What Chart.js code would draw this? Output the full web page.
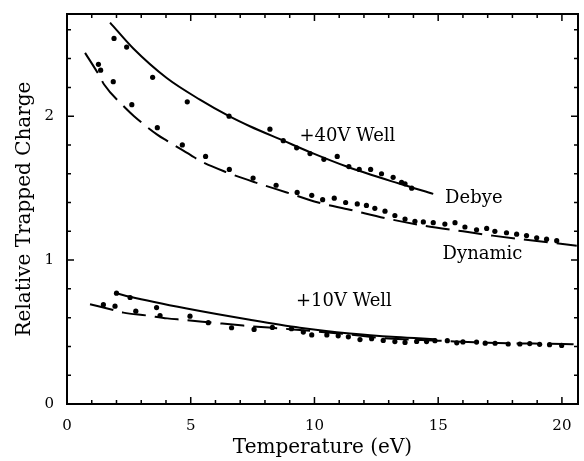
<!DOCTYPE html>
<html>
<head>
<meta charset="utf-8">
<script src="https://cdn.jsdelivr.net/npm/chart.js@4.4.1/dist/chart.umd.min.js"></script>
<style>
    body { margin: 0; background: #fff; }
</style>
</head>
<body>
<canvas id="myChart" width="584" height="461"></canvas>
<script>
// +40V well, Debye model curve
const debye40T = [1.74, 2.68, 4.03, 5.37, 6.55, 7.39, 8.74, 9.82, 11.3, 13.45, 14.8];
const debye40Q = [2.65, 2.47, 2.265, 2.115, 2.00, 1.93, 1.83, 1.75, 1.65, 1.53, 1.46];

// +40V well, points along the Debye curve
const debye40DotT = [1.90, 2.41, 3.46, 4.86, 6.55, 8.20, 8.74, 9.28, 9.82, 10.38, 10.92, 11.39, 11.81, 12.27, 12.71, 13.18, 13.52, 13.66, 13.93];
const debye40DotQ = [2.54, 2.48, 2.27, 2.10, 2.00, 1.91, 1.83, 1.78, 1.74, 1.70, 1.72, 1.65, 1.63, 1.63, 1.60, 1.575, 1.54, 1.53, 1.50];

// +40V well, dynamic model curve
const dyn40T = [0.73, 1.31, 1.50, 2.34, 2.71, 3.66, 4.03, 5.00, 5.37, 6.45, 7.60, 8.88, 10.15, 11.43, 12.90, 14.40, 16.00, 17.20, 20.60];
const dyn40Q = [2.44, 2.28, 2.22, 2.06, 2.00, 1.87, 1.83, 1.73, 1.69, 1.61, 1.54, 1.47, 1.40, 1.35, 1.29, 1.24, 1.20, 1.17, 1.10];

// +40V well, points along the dynamic curve
const dyn40DotT = [1.27, 1.36, 1.87, 2.62, 3.65, 4.66, 5.60, 6.56, 7.52, 8.45, 9.30, 9.89, 10.33, 10.80, 11.26, 11.73, 12.10, 12.44, 12.85, 13.25, 13.66, 14.06, 14.40, 14.80, 15.27, 15.68, 16.08, 16.55, 16.96, 17.29, 17.76, 18.17, 18.57, 18.98, 19.38, 19.79];
const dyn40DotQ = [2.36, 2.32, 2.24, 2.08, 1.92, 1.80, 1.72, 1.63, 1.57, 1.52, 1.47, 1.45, 1.42, 1.43, 1.40, 1.39, 1.38, 1.36, 1.34, 1.31, 1.285, 1.27, 1.265, 1.26, 1.25, 1.26, 1.23, 1.21, 1.22, 1.20, 1.19, 1.18, 1.17, 1.155, 1.145, 1.135];

// +10V well, Debye model curve
const debye10T = [2.0, 2.55, 4.84, 7.39, 9.41, 11.43, 13.3, 14.9];
const debye10Q = [0.77, 0.745, 0.663, 0.585, 0.53, 0.49, 0.465, 0.45];

// +10V well, dynamic model curve
const dyn10T = [0.93, 1.94, 2.28, 3.22, 4.05, 4.70, 5.85, 7.12, 9.00, 11.00, 13.00, 15.00, 17.00, 20.05, 20.60];
const dyn10Q = [0.693, 0.65, 0.635, 0.615, 0.595, 0.585, 0.566, 0.545, 0.52, 0.49, 0.455, 0.44, 0.425, 0.417, 0.415];

// +10V well points
const dot10T = [1.47, 1.94, 2.0, 2.55, 2.78, 3.62, 3.76, 4.97, 5.71, 6.65, 7.56, 8.30, 9.07, 9.55, 9.89, 10.50, 10.96, 11.37, 11.84, 12.31, 12.78, 13.25, 13.66, 14.13, 14.53, 14.87, 15.37, 15.75, 16.00, 16.55, 16.90, 17.30, 17.83, 18.30, 18.70, 19.10, 19.50, 19.99];
const dot10Q = [0.69, 0.68, 0.77, 0.74, 0.645, 0.67, 0.615, 0.61, 0.565, 0.53, 0.518, 0.532, 0.523, 0.50, 0.48, 0.48, 0.474, 0.467, 0.448, 0.454, 0.442, 0.434, 0.428, 0.435, 0.434, 0.44, 0.44, 0.425, 0.431, 0.43, 0.423, 0.422, 0.417, 0.417, 0.42, 0.415, 0.412, 0.407];

// text labels placed in data coordinates
const labelText = ['+40V Well', 'Debye', 'Dynamic', '+10V Well'];
const labelT = [11.33, 16.44, 16.79, 11.19];
const labelQ = [1.86, 1.43, 1.04, 0.71];

const xMax = 20.65;
const yMax = 2.71;
const serif = '"DejaVu Serif", "Liberation Serif", serif';

function toPoints(xs, ys) {
    const result = [];
    for (let i = 0; i < xs.length; i++) {
        result.push({ x: xs[i], y: ys[i] });
    }
    return result;
}

function curve(xs, ys, dash) {
    return {
        data: toPoints(xs, ys),
        showLine: true,
        borderColor: '#000',
        borderWidth: 2,
        borderDash: dash,
        pointRadius: 0,
        tension: 0.4,
        cubicInterpolationMode: 'monotone',
    };
}

function dots(xs, ys) {
    return {
        data: toPoints(xs, ys),
        showLine: false,
        pointRadius: 2.6,
        pointBackgroundColor: '#000',
        pointBorderColor: '#000',
        pointBorderWidth: 0,
    };
}

// frame with inward ticks on all four sides, plus the text labels
const framePlugin = {
    id: 'frame',
    afterDraw(chart) {
        const ctx = chart.ctx;
        const area = chart.chartArea;
        const x = chart.scales.x;
        const y = chart.scales.y;

        ctx.save();
        ctx.strokeStyle = '#000';
        ctx.lineWidth = 2;
        ctx.strokeRect(area.left, area.top, area.right - area.left, area.bottom - area.top);

        ctx.lineWidth = 1.5;
        ctx.beginPath();
        for (let v = 1; v <= 20; v++) {
            const px = x.getPixelForValue(v);
            const len = v % 5 === 0 ? 7 : 4;
            ctx.moveTo(px, area.bottom);
            ctx.lineTo(px, area.bottom - len);
            ctx.moveTo(px, area.top);
            ctx.lineTo(px, area.top + len);
        }
        for (let i = 1; i <= 13; i++) {
            const v = i * 0.2;
            const py = y.getPixelForValue(v);
            const len = i % 5 === 0 ? 7 : 4;
            ctx.moveTo(area.left, py);
            ctx.lineTo(area.left + len, py);
            ctx.moveTo(area.right, py);
            ctx.lineTo(area.right - len, py);
        }
        ctx.stroke();

        ctx.fillStyle = '#000';
        ctx.font = '18px ' + serif;
        ctx.textAlign = 'center';
        ctx.textBaseline = 'middle';
        for (let i = 0; i < labelText.length; i++) {
            ctx.fillText(labelText[i], x.getPixelForValue(labelT[i]), y.getPixelForValue(labelQ[i]));
        }
        ctx.restore();
    }
};

new Chart('myChart', {
    type: 'scatter',
    data: {
        datasets: [
            curve(debye40T, debye40Q, []),
            curve(dyn40T, dyn40Q, [24, 9]),
            curve(debye10T, debye10Q, []),
            curve(dyn10T, dyn10Q, [24, 9]),
            dots(debye40DotT, debye40DotQ),
            dots(dyn40DotT, dyn40DotQ),
            dots(dot10T, dot10Q),
        ]
    },
    options: {
        responsive: false,
        animation: false,
        devicePixelRatio: 1,
        layout: {
            padding: { top: 14, right: 6, left: 0, bottom: 0 },
        },
        scales: {
            x: {
                type: 'linear',
                min: 0,
                max: xMax,
                grid: { display: false },
                border: { display: false },
                ticks: {
                    stepSize: 5,
                    includeBounds: false,
                    padding: 5,
                    color: '#000',
                    font: { family: serif, size: 15 },
                    maxRotation: 0,
                },
                title: {
                    display: true,
                    text: 'Temperature (eV)',
                    color: '#000',
                    font: { family: serif, size: 20 },
                    padding: { top: 0, bottom: 1 },
                },
                afterFit(scale) {
                    scale.height = 57;
                },
            },
            y: {
                type: 'linear',
                min: 0,
                max: yMax,
                grid: { display: false },
                border: { display: false },
                ticks: {
                    stepSize: 1,
                    includeBounds: false,
                    padding: 5,
                    color: '#000',
                    font: { family: serif, size: 15 },
                },
                title: {
                    display: true,
                    text: 'Relative Trapped Charge',
                    color: '#000',
                    font: { family: serif, size: 20 },
                    padding: { top: 13, bottom: 0 },
                },
                afterFit(scale) {
                    scale.width = 67;
                },
            },
        },
        plugins: {
            legend: { display: false },
            tooltip: { enabled: false },
        },
    },
    plugins: [framePlugin],
});
</script>
</body>
</html>
